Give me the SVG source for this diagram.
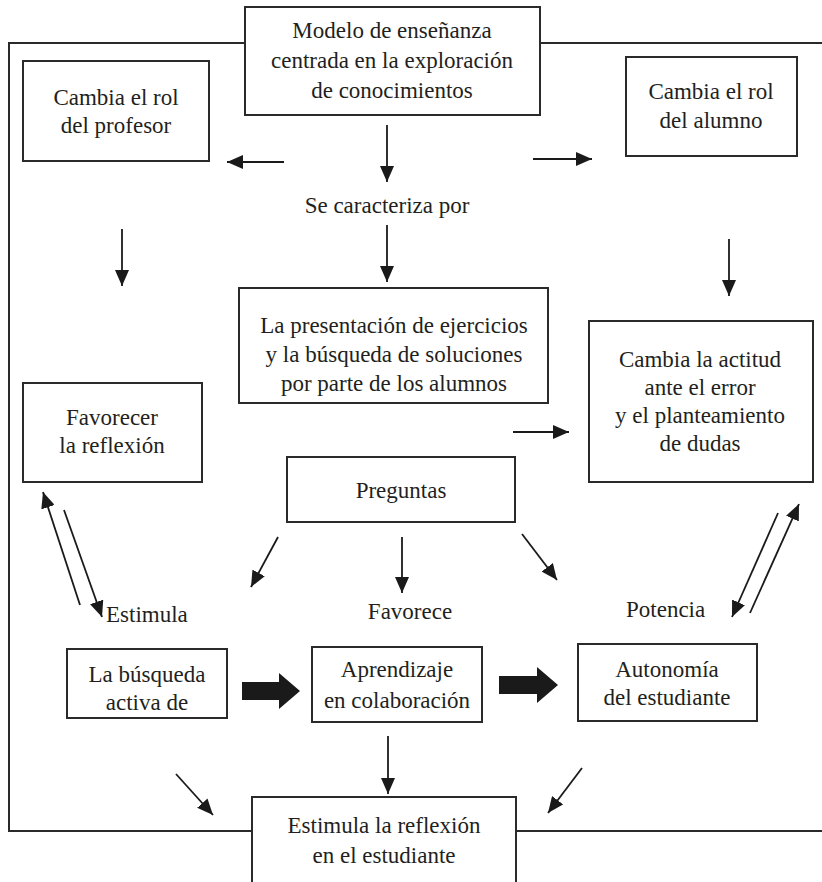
<svg xmlns="http://www.w3.org/2000/svg" width="822" height="882" viewBox="0 0 822 882">
  <defs>
    <marker id="head" markerUnits="userSpaceOnUse" viewBox="0 0 16 14" refX="16" refY="7" markerWidth="16" markerHeight="14" orient="auto">
      <path d="M0,0 L16,7 L0,14 z" fill="#1a1a1a"/>
    </marker>
    <style>
      .box { fill: #ffffff; stroke: #2a2a2a; stroke-width: 2; }
      .frame { fill: none; stroke: #2a2a2a; stroke-width: 2; }
      .arr { fill: none; stroke: #1a1a1a; stroke-width: 1.8; marker-end: url(#head); }
      .thick { fill: #1a1a1a; }
      .c { text-anchor: middle; }
    </style>
  </defs>
  <rect width="822" height="882" fill="#ffffff"/>

  <!-- outer frame -->
  <path class="frame" d="M245,43 H9 V831 H252 M540,43 H822 M516,831 H822"/>

  <!-- nodes -->
  <g font-size="23" fill="#231f20" font-family="'Liberation Serif', 'Times New Roman', serif">
  <g id="modelo">
    <rect class="box" x="245" y="7" width="295" height="108"/>
    <text class="c" x="392" y="38">Modelo de enseñanza</text>
    <text class="c" x="392" y="68">centrada en la exploración</text>
    <text class="c" x="392" y="98">de conocimientos</text>
  </g>
  <g id="rol-profesor">
    <rect class="box" x="23" y="61" width="186" height="100"/>
    <text class="c" x="116" y="105">Cambia el rol</text>
    <text class="c" x="116" y="133">del profesor</text>
  </g>
  <g id="rol-alumno">
    <rect class="box" x="626" y="57" width="171" height="99"/>
    <text class="c" x="711" y="99">Cambia el rol</text>
    <text class="c" x="711" y="128">del alumno</text>
  </g>
  <g id="caracteriza">
    <text class="c" x="387" y="213">Se caracteriza por</text>
  </g>
  <g id="presentacion">
    <rect class="box" x="239" y="288" width="309" height="115"/>
    <text class="c" x="394" y="333">La presentación de ejercicios</text>
    <text class="c" x="394" y="362">y la búsqueda de soluciones</text>
    <text class="c" x="394" y="391">por parte de los alumnos</text>
  </g>
  <g id="favorecer">
    <rect class="box" x="23" y="383" width="179" height="99"/>
    <text class="c" x="112" y="425">Favorecer</text>
    <text class="c" x="112" y="453">la reflexión</text>
  </g>
  <g id="actitud">
    <rect class="box" x="589" y="321" width="224" height="161"/>
    <text class="c" x="700" y="367">Cambia la actitud</text>
    <text class="c" x="700" y="395">ante el error</text>
    <text class="c" x="700" y="423">y el planteamiento</text>
    <text class="c" x="700" y="451">de dudas</text>
  </g>
  <g id="preguntas">
    <rect class="box" x="287" y="457" width="228" height="65"/>
    <text class="c" x="401" y="498">Preguntas</text>
  </g>
  <g id="estimula">
    <text x="106" y="622">Estimula</text>
  </g>
  <g id="favorece">
    <text class="c" x="410" y="619">Favorece</text>
  </g>
  <g id="potencia">
    <text x="626" y="617">Potencia</text>
  </g>
  <g id="busqueda">
    <rect class="box" x="67" y="649" width="160" height="69"/>
    <text class="c" x="147" y="682">La búsqueda</text>
    <text class="c" x="147" y="710">activa de</text>
  </g>
  <g id="aprendizaje">
    <rect class="box" x="312" y="647" width="170" height="75"/>
    <text class="c" x="397" y="677">Aprendizaje</text>
    <text class="c" x="397" y="708">en colaboración</text>
  </g>
  <g id="autonomia">
    <rect class="box" x="578" y="644" width="179" height="77"/>
    <text class="c" x="667" y="677">Autonomía</text>
    <text class="c" x="667" y="705">del estudiante</text>
  </g>
  <g id="reflexion-estudiante">
    <rect class="box" x="252" y="797" width="264" height="100"/>
    <text class="c" x="384" y="833">Estimula la reflexión</text>
    <text class="c" x="384" y="863">en el estudiante</text>
  </g>
  </g>

  <!-- connectors -->
  <g id="connectors">
    <line class="arr" x1="284" y1="162" x2="227" y2="162"/>
    <line class="arr" x1="387" y1="125" x2="387" y2="182"/>
    <line class="arr" x1="533" y1="159" x2="592" y2="159"/>
    <line class="arr" x1="122" y1="229" x2="122" y2="286"/>
    <line class="arr" x1="387" y1="225" x2="387" y2="282"/>
    <line class="arr" x1="729" y1="239" x2="729" y2="296"/>
    <line class="arr" x1="513" y1="432" x2="569" y2="432"/>
    <!-- left pair -->
    <line class="arr" x1="80" y1="605" x2="43" y2="492"/>
    <line class="arr" x1="64" y1="510" x2="102" y2="617"/>
    <!-- from Preguntas -->
    <line class="arr" x1="278" y1="537" x2="251" y2="587"/>
    <line class="arr" x1="402" y1="537" x2="402" y2="593"/>
    <line class="arr" x1="522" y1="534" x2="557" y2="580"/>
    <!-- right pair -->
    <line class="arr" x1="778" y1="513" x2="732" y2="617"/>
    <line class="arr" x1="750" y1="613" x2="799" y2="504"/>
    <!-- block arrows -->
    <polygon class="thick" points="242,682 279,682 279,673 300,691 279,709 279,700 242,700"/>
    <polygon class="thick" points="499,676 537,676 537,667 558,685 537,703 537,694 499,694"/>
    <!-- into the bottom node -->
    <line class="arr" x1="388" y1="736" x2="388" y2="794"/>
    <line class="arr" x1="176" y1="774" x2="213" y2="815"/>
    <line class="arr" x1="582" y1="768" x2="548" y2="813"/>
  </g>
</svg>
